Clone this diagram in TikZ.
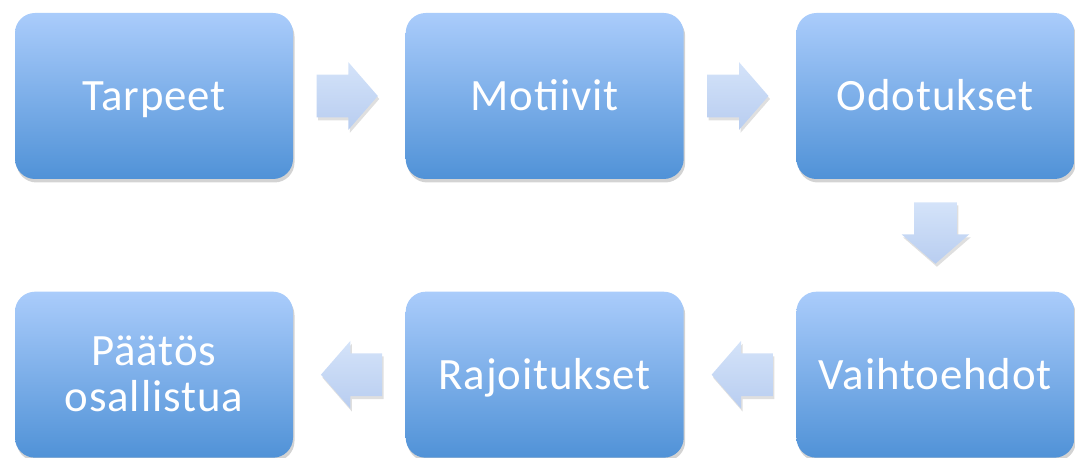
\documentclass[tikz,border=0pt]{standalone}
\usepackage{fontspec}
\setmainfont{Carlito}[LetterSpace=2]
\usepackage{tikz}
\usetikzlibrary{shapes.arrows, positioning, shadows}
\definecolor{boxtop}{RGB}{170,204,251}
\definecolor{boxbottom}{RGB}{80,146,215}
\definecolor{arrtop}{RGB}{212,227,249}
\definecolor{arrbottom}{RGB}{184,205,240}
\tikzset{
  stage/.style={rectangle, rounded corners=0.4cm, minimum width=5.56cm, minimum height=3.32cm, text width=5.2cm, align=center, top color=boxtop, bottom color=boxbottom, text=white, font=\fontsize{25.5}{26}\selectfont, text height=18pt, text depth=1.6pt, drop shadow={opacity=0.35, shadow xshift=0.03cm, shadow yshift=-0.07cm}},
  blockarrow/.style={single arrow, single arrow head extend=0.25cm, single arrow tip angle=98, inner sep=0.42cm, minimum height=1.18cm, top color=arrtop, bottom color=arrbottom, draw=none, drop shadow={opacity=0.25, shadow xshift=0.03cm, shadow yshift=-0.06cm}}
}

\begin{document}
\begin{tikzpicture}[node distance=2.24cm]
            \useasboundingbox (0,0) rectangle (21.5,-9.16);
            \node (tarpeet) [stage] at (3.08,-1.92) {Tarpeet};
            \node (motiivit) [stage, right=of tarpeet] {Motiivit};
            \node (odotukset) [stage, right=of motiivit] {Odotukset};
            \node (vaihtoehdot) [stage, below=of odotukset] {Vaihtoehdot};
            \node (rajoitukset) [stage, left=of vaihtoehdot] {Rajoitukset};
            \node (paatos) [stage, left=of rajoitukset, text height=16pt, text depth=26pt] {Päätös\\osallistua};

            % arrow centre sits off the tip, so pull each back a bit
            \path (tarpeet) -- node[blockarrow, xshift=-0.23cm] {} (motiivit);
            \path (motiivit) -- node[blockarrow, xshift=-0.23cm] {} (odotukset);
            \path (odotukset) -- node[blockarrow, shape border rotate=270, yshift=0.23cm] {} (vaihtoehdot);
            \path (vaihtoehdot) -- node[blockarrow, shape border rotate=180, xshift=0.23cm] {} (rajoitukset);
            \path (rajoitukset) -- node[blockarrow, shape border rotate=180, xshift=0.23cm] {} (paatos);
\end{tikzpicture}
\end{document}
